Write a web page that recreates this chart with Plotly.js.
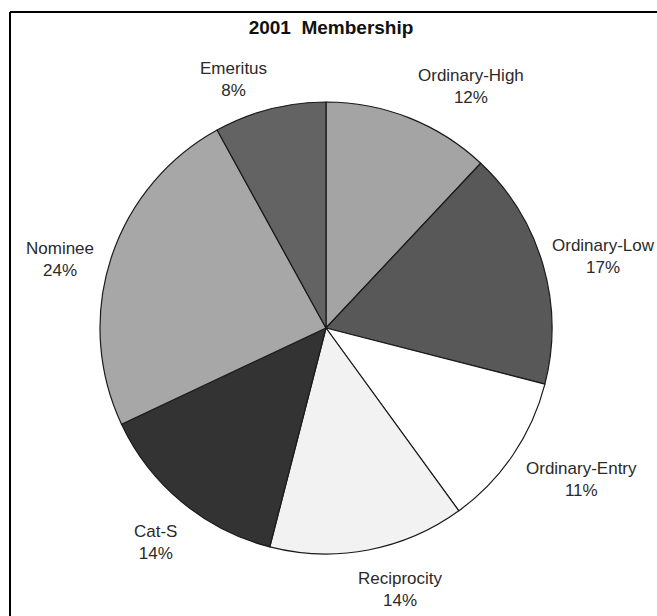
<!DOCTYPE html>
<html>
<head>
<meta charset="utf-8">
<script src="https://cdn.plot.ly/plotly-3.0.1.min.js"></script>
<style>
  html, body { margin: 0; padding: 0; background: #fff; }
  #chart { width: 657px; height: 616px; }
</style>
</head>
<body>
<div id="chart"></div>
<script>
// Data
const categories = ["Ordinary-High", "Ordinary-Low", "Ordinary-Entry", "Reciprocity", "Cat-S", "Nominee", "Emeritus"];
const shares = [12, 17, 11, 14, 14, 24, 8];
const sliceColors = ["#a4a4a4", "#585858", "#ffffff", "#f2f2f2", "#333333", "#a7a7a7", "#636363"];
const chartTitle = "2001  Membership";

// Layout geometry (pixels)
const W = 657, H = 616;
const cx = 326, cy = 328, r = 226;
const labelR = 240;      // radial distance of label anchor
const halfBlock = 22;    // half height of the two-line label block
// small per-label placement nudges [dx, dy] in pixels (layout only)
const labelNudge = [[2, 2], [-6, 2], [0, 4], [-15, 4], [6, 13], [-2, 12], [3, 5]];

const total = shares.reduce((a, b) => a + b, 0);
const annotations = [];
let cum = 0;
shares.forEach((v, i) => {
  const mid = (cum + v / 2) / total * 2 * Math.PI;
  cum += v;
  const s = Math.sin(mid), c = Math.cos(mid);
  const px = cx + labelR * s + labelNudge[i][0];
  const py = cy - labelR * c + labelNudge[i][1];
  annotations.push({
    xref: "paper", yref: "paper",
    x: px / W, y: 1 - py / H,
    xanchor: s >= 0 ? "left" : "right",
    yanchor: "middle",
    yshift: c * halfBlock,
    align: "center",
    showarrow: false,
    text: categories[i] + "<br>" + Math.round(v / total * 100) + "%",
    font: { family: "Liberation Sans, Arial, sans-serif", size: 17, color: "#2a2a2a" }
  });
});

const trace = {
  type: "pie",
  labels: categories,
  values: shares,
  sort: false,
  direction: "clockwise",
  rotation: 0,
  textinfo: "none",
  hoverinfo: "label+percent",
  marker: { colors: sliceColors, line: { color: "#1a1a1a", width: 1.2 } },
  domain: { x: [(cx - r) / W, (cx + r) / W], y: [(H - cy - r) / H, (H - cy + r) / H] },
  showlegend: false
};

const layout = {
  width: W, height: H,
  margin: { l: 0, r: 0, t: 0, b: 0 },
  paper_bgcolor: "#ffffff",
  plot_bgcolor: "#ffffff",
  showlegend: false,
  title: {
    text: "<b>" + chartTitle + "</b>",
    x: 331 / W, xanchor: "center",
    y: 1 - 27 / H, yanchor: "middle",
    yref: "container",
    font: { family: "Liberation Sans, Arial, sans-serif", size: 19, color: "#111" }
  },
  annotations: annotations,
  shapes: [
    { type: "line", xref: "paper", yref: "paper", x0: 10 / W, x1: 1.01, y0: 1 - 12 / H, y1: 1 - 12 / H, line: { color: "#000", width: 2 } },
    { type: "line", xref: "paper", yref: "paper", x0: 10 / W, x1: 10 / W, y0: -0.01, y1: 1 - 12 / H, line: { color: "#000", width: 2 } }
  ]
};

Plotly.newPlot("chart", [trace], layout, { displayModeBar: false, staticPlot: true });
</script>
</body>
</html>
